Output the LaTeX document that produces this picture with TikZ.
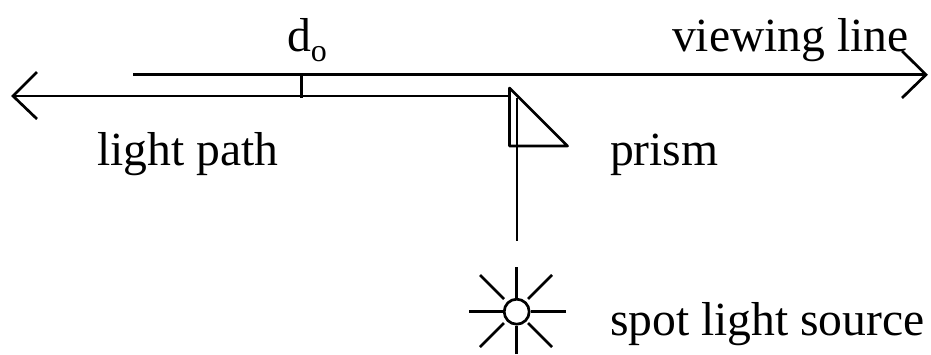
\documentclass[tikz,border=0pt]{standalone}
\usepackage{fontspec}
\setmainfont{Liberation Serif}
\tikzset{
  lbl/.style={anchor=base west,inner sep=0pt,outer sep=0pt,font=\fontsize{47.6}{52}\selectfont},
  ln/.style={line width=2.7pt,black,line cap=butt},
  head/.style={ln,line join=miter},
}
\begin{document}
\begin{tikzpicture}[x=1pt,y=-1pt]
\useasboundingbox (0,0) rectangle (931,354);
% named points
\coordinate (vs) at (133,74.7);
\coordinate (vt) at (926,74.7);
\coordinate (va) at (902,51);
\coordinate (vb) at (902,98);
\coordinate (lt) at (13,96);
\coordinate (la) at (37,72);
\coordinate (lb) at (37,119);
\coordinate (le) at (510,96);
\coordinate (tt) at (301.5,74.7);
\coordinate (tb) at (301.5,98);
\coordinate (pa) at (509.5,88);
\coordinate (pb) at (509.5,146);
\coordinate (pc) at (567.5,146);
\coordinate (bt) at (517,98);
\coordinate (bb) at (517,241);
\node[circle,draw,line width=2.7pt,minimum size=25pt,inner sep=0pt] (src) at (516.7,311.7) {};
% rays
\coordinate (r1) at (516.7,267); \coordinate (r2) at (516.7,354);
\coordinate (r3) at (469,311.7); \coordinate (r4) at (566,311.7);
\coordinate (r5) at (480,275); \coordinate (r6) at (552,275);
\coordinate (r7) at (480,347); \coordinate (r8) at (552,347);
\coordinate (q5) at (504,299); \coordinate (q6) at (528,299);
\coordinate (q7) at (504,323); \coordinate (q8) at (528,323);
% lines
\draw[ln] (vs) -- (vt);
\draw[head] (va) -- (vt) -- (vb);
\draw[ln] (lt) -- (le);
\draw[head] (la) -- (lt) -- (lb);
\draw[ln] (tt) -- (tb);
\draw[ln,line join=round] (pa) -- (pb) -- (pc) -- cycle;
\draw[ln] (bt) -- (bb);
\draw[ln] (r1) -- (src.north);
\draw[ln] (r2) -- (src.south);
\draw[ln] (r3) -- (src.west);
\draw[ln] (r4) -- (src.east);
\draw[ln] (r5) -- (q5);
\draw[ln] (r6) -- (q6);
\draw[ln] (r7) -- (q7);
\draw[ln] (r8) -- (q8);
% labels
\node[lbl] (t1) at (287,51) {d\raisebox{-0.22em}{\fontsize{32}{34}\selectfont o}};
\node[lbl] (t2) at (672,51) {viewing line};
\node[lbl] (t3) at (97,165) {light path};
\node[lbl] (t4) at (610,165) {prism};
\node[lbl] (t5) at (610,335) {spot light source};
\end{tikzpicture}
\end{document}
